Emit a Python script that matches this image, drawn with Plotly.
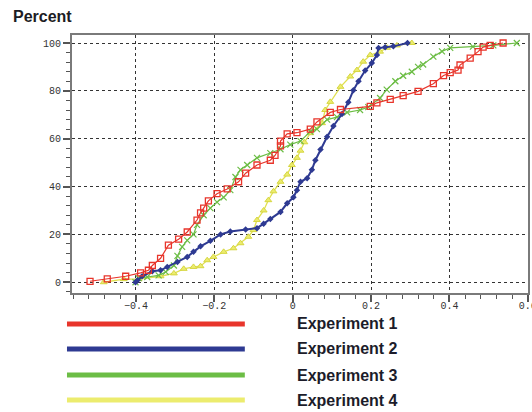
import plotly.graph_objects as go

# ---- data ----
exp1_x = [-0.517, -0.473, -0.426, -0.388, -0.368, -0.358, -0.337, -0.317, -0.291, -0.269,
          -0.244, -0.235, -0.227, -0.215, -0.193, -0.167, -0.138, -0.120, -0.091, -0.057,
          -0.045, -0.031, -0.031, -0.014, 0.011, 0.045, 0.062, 0.096, 0.122, 0.198,
          0.215, 0.249, 0.282, 0.320, 0.359, 0.385, 0.402, 0.422, 0.427, 0.453,
          0.473, 0.486, 0.504, 0.537]
exp1_y = [0.4, 1.4, 2.5, 3.9, 5.0, 7.0, 10.0, 15.5, 18.0, 21.0,
          26.0, 29.0, 31.0, 34.0, 37.0, 39.0, 42.0, 45.6, 49.0, 51.0,
          53.0, 57.0, 59.0, 62.0, 62.5, 64.0, 67.0, 71.0, 72.2, 73.5,
          75.0, 76.4, 78.0, 79.8, 83.0, 86.4, 87.6, 88.7, 90.8, 93.7,
          96.4, 98.3, 99.0, 100.0]

exp2_x = [-0.401, -0.396, -0.384, -0.358, -0.337, -0.320, -0.294, -0.269, -0.253, -0.235,
          -0.210, -0.184, -0.159, -0.120, -0.091, -0.074, -0.057, -0.031, -0.014, 0.002,
          0.011, 0.020, 0.037, 0.049, 0.058, 0.071, 0.088, 0.104, 0.126, 0.142,
          0.155, 0.168, 0.185, 0.202, 0.215, 0.219, 0.236, 0.257, 0.293]
exp2_y = [0.0, 0.8, 2.5, 4.6, 5.0, 6.4, 8.5, 10.6, 12.7, 15.0,
          17.3, 20.0, 21.2, 22.0, 22.6, 24.5, 26.4, 29.4, 33.0, 35.5,
          38.5, 42.0, 43.5, 47.0, 51.0, 55.5, 60.8, 65.3, 70.3, 75.2,
          80.3, 84.0, 88.5, 91.6, 95.0, 97.9, 98.2, 98.6, 100.0]

exp3_x = [-0.401, -0.393, -0.371, -0.342, -0.324, -0.303, -0.294, -0.282, -0.269, -0.253,
          -0.244, -0.227, -0.210, -0.193, -0.176, -0.159, -0.146, -0.133, -0.116, -0.091,
          -0.057, -0.031, -0.006, 0.020, 0.045, 0.062, 0.088, 0.113, 0.139, 0.172,
          0.193, 0.223, 0.240, 0.262, 0.282, 0.304, 0.320, 0.333, 0.359, 0.381,
          0.402, 0.460, 0.512, 0.572]
exp3_y = [0.0, 1.7, 2.2, 2.9, 4.3, 7.0, 11.0, 14.8, 17.5, 20.0,
          24.0, 28.0, 31.0, 33.5, 35.5, 38.5, 44.0, 47.0, 49.0, 52.0,
          54.0, 55.6, 57.5, 59.0, 63.0, 64.0, 68.0, 69.0, 71.0, 72.0,
          73.2, 77.0, 80.5, 84.0, 86.3, 88.0, 90.0, 91.0, 94.3, 96.5,
          98.0, 98.5, 99.0, 100.0]

exp4_x = [-0.482, -0.431, -0.393, -0.337, -0.303, -0.278, -0.253, -0.235, -0.218, -0.202,
          -0.176, -0.151, -0.133, -0.113, -0.100, -0.091, -0.074, -0.062, -0.049, -0.031,
          -0.014, -0.002, 0.011, 0.020, 0.030, 0.045, 0.075, 0.083, 0.096, 0.122,
          0.147, 0.164, 0.180, 0.198, 0.223, 0.241, 0.266, 0.304]
exp4_y = [0.0, 1.3, 1.3, 2.5, 3.7, 5.6, 6.4, 6.7, 9.2, 10.6,
          12.7, 14.2, 16.3, 19.0, 21.8, 26.0, 30.0, 34.3, 38.0, 42.0,
          45.0, 49.0, 52.0, 55.0, 58.5, 62.3, 66.5, 72.0, 75.4, 81.7,
          86.0, 88.7, 92.2, 95.0, 96.4, 98.0, 99.0, 100.0]

series_names = ["Experiment 1", "Experiment 2", "Experiment 3", "Experiment 4"]
series_colors = ["#e8352b", "#2e3a92", "#6cbd45", "#ecec6e"]

x_ticks = [-0.4, -0.2, 0, 0.2, 0.4, 0.6]
x_labels = ["\u22120.4", "\u22120.2", "0", "0.2", "0.4", "0.6"]
y_ticks = [0, 20, 40, 60, 80, 100]

fig = go.Figure()

fig.add_trace(go.Scatter(
    x=exp4_x, y=exp4_y, mode="lines+markers", name=series_names[3],
    line=dict(color="#e0e050", width=1.3),
    marker=dict(symbol="triangle-up", size=6, color=series_colors[3],
                line=dict(color="#d6d640", width=1))))
fig.add_trace(go.Scatter(
    x=exp3_x, y=exp3_y, mode="lines+markers", name=series_names[2],
    line=dict(color=series_colors[2], width=1.2),
    marker=dict(symbol="x-thin-open", size=6, color=series_colors[2],
                line=dict(color=series_colors[2], width=1.2))))
fig.add_trace(go.Scatter(
    x=exp2_x, y=exp2_y, mode="lines+markers", name=series_names[1],
    line=dict(color=series_colors[1], width=2),
    marker=dict(symbol="diamond", size=5, color=series_colors[1])))
fig.add_trace(go.Scatter(
    x=exp1_x, y=exp1_y, mode="lines+markers", name=series_names[0],
    line=dict(color=series_colors[0], width=1.2),
    marker=dict(symbol="square-open", size=6, color=series_colors[0],
                line=dict(color=series_colors[0], width=1.3))))

axis_common = dict(
    showline=True, linecolor="#7a7a7a", linewidth=2, mirror=True,
    showgrid=True, gridcolor="#333333", gridwidth=1, griddash="dot",
    zeroline=False, ticks="outside", ticklen=7, tickwidth=1.5, tickcolor="#555555",
    tickfont=dict(family="Liberation Mono", size=10, color="#333333"),
    automargin=False, ticklabeloverflow="allow",
)

fig.update_xaxes(range=[-0.563, 0.6005], tickvals=x_ticks, ticktext=x_labels,
                 ticklabelstandoff=-5,
                 minor=dict(dtick=0.04, tick0=0, ticklen=4, tickwidth=1.2,
                            tickcolor="#555555", showgrid=False),
                 **axis_common)
fig.update_yaxes(range=[-4.5, 103.35], tickvals=y_ticks,
                 minor=dict(dtick=4, tick0=0, ticklen=4, tickwidth=1.2,
                            tickcolor="#555555", showgrid=False),
                 **axis_common)

# legend drawn manually below the plot
leg_y = [-0.120, -0.217, -0.318, -0.415]
shapes = []
annotations = []
for name, col, yy in zip(series_names, series_colors, leg_y):
    shapes.append(dict(type="line", xref="paper", yref="paper",
                       x0=-0.011, x1=0.379, y0=yy, y1=yy,
                       line=dict(color=col, width=5)))
    annotations.append(dict(text="<b>" + name + "</b>", xref="paper", yref="paper",
                            x=0.489, y=yy, xanchor="left", yanchor="middle",
                            showarrow=False,
                            font=dict(family="Liberation Sans", size=16, color="#1c1c2a")))

annotations.append(dict(text="<b>Percent</b>", xref="paper", yref="paper",
                        x=-0.134, y=1.072, xanchor="left", yanchor="middle",
                        showarrow=False,
                        font=dict(family="Liberation Sans", size=16, color="#1c1c24")))

fig.update_layout(
    width=532, height=412,
    margin=dict(l=72, r=4, t=35, b=119),
    paper_bgcolor="white", plot_bgcolor="white",
    showlegend=False,
    shapes=shapes, annotations=annotations,
)

fig.write_html("out.html",
               config={"displayModeBar": False},
               post_script="document.body.style.margin='0';document.body.style.overflow='hidden';")
